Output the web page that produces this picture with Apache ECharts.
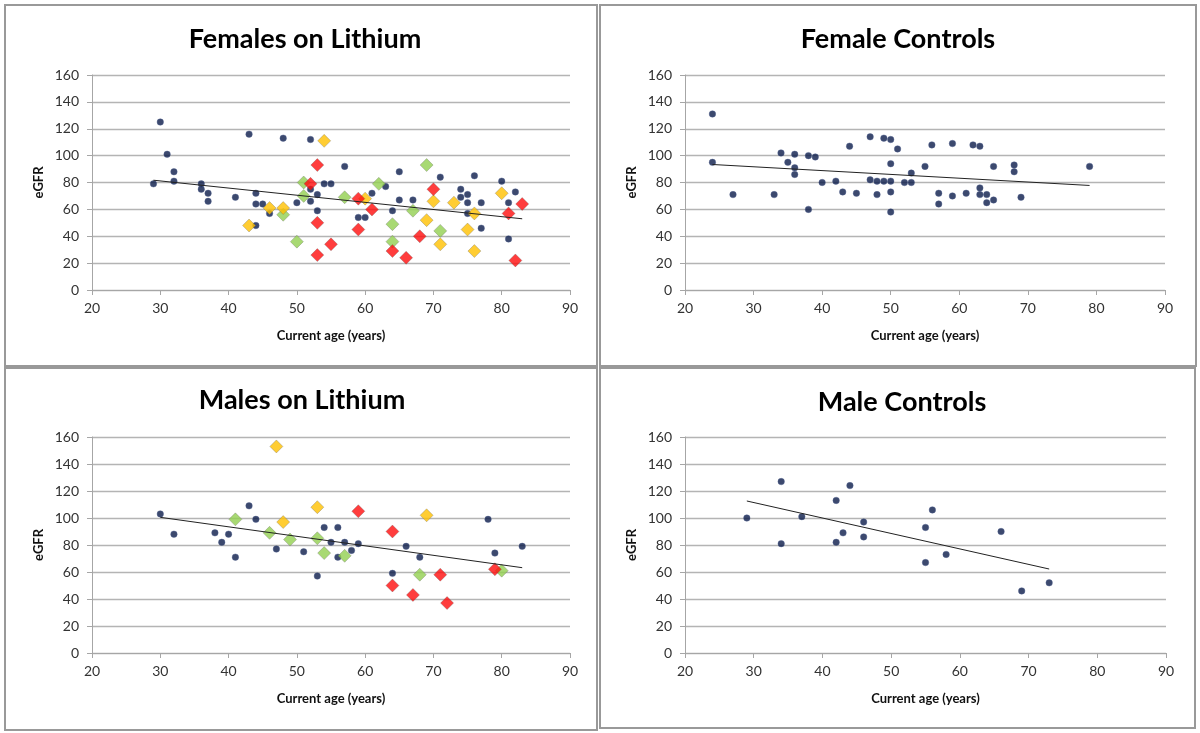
<!DOCTYPE html>
<html>
<head>
<meta charset="utf-8">
<script src="https://cdn.jsdelivr.net/npm/echarts@6.0.0/dist/echarts.min.js"></script>
<style>
  html, body { margin: 0; padding: 0; background: #fff; }
  #chart { width: 1200px; height: 733px; }
</style>
</head>
<body>
<div id="chart"></div>
<script>
// [age, eGFR]
var femLithiumBlue = [[29,79],[30,125],[31,101],[32,88],[32,81],[36,79],[36,75],[37,72],[37,66],[41,69],[43,116],[44,72],[44,64],[45,64],[44,48],[46,57],[48,113],[50,65],[52,112],[52,75],[52,66],[53,71],[53,59],[54,79],[55,79],[57,92],[59,54],[60,54],[61,72],[63,77],[64,59],[65,88],[65,67],[67,67],[71,84],[74,75],[74,69],[75,71],[75,65],[75,57],[76,85],[77,65],[77,46],[80,81],[81,65],[81,38],[82,73]];
var femLithiumGreen = [[48,56],[50,36],[51,80],[51,70],[57,69],[62,79],[64,49],[64,36],[67,59],[69,93],[71,44]];
var femLithiumYellow = [[43,48],[46,61],[48,61],[54,111],[60,68],[69,52],[70,66],[71,34],[73,65],[75,45],[76,57],[76,29],[80,72]];
var femLithiumRed = [[52,79],[53,93],[53,50],[53,26],[55,34],[59,68],[59,45],[61,60],[64,29],[66,24],[68,40],[70,75],[81,57],[82,22],[83,64]];
var femLithiumTrend = [[29,81.7],[83,53]];

var femControls = [[24,131],[24,95],[27,71],[33,71],[34,102],[35,95],[36,101],[36,91],[36,86],[38,100],[38,60],[39,99],[40,80],[42,81],[43,73],[44,107],[45,72],[47,114],[47,82],[48,81],[48,71],[49,113],[49,81],[50,112],[50,94],[50,81],[50,73],[50,58],[51,105],[52,80],[53,87],[53,80],[55,92],[56,108],[57,72],[57,64],[59,109],[59,70],[61,72],[62,108],[63,107],[63,76],[63,71],[64,71],[64,65],[65,92],[65,67],[68,93],[68,88],[69,69],[79,92]];
var femControlsTrend = [[24,93.4],[79,77.8]];

var maleLithiumBlue = [[30,103],[32,88],[38,89],[39,82],[40,88],[41,71],[43,109],[44,99],[47,77],[51,75],[53,57],[54,93],[55,82],[56,93],[56,71],[57,82],[58,76],[59,81],[64,59],[66,79],[68,71],[78,99],[79,74],[83,79]];
var maleLithiumGreen = [[41,99],[46,89],[49,84],[53,85],[54,74],[57,72],[68,58],[80,61]];
var maleLithiumYellow = [[47,153],[48,97],[53,108],[69,102]];
var maleLithiumRed = [[59,105],[64,90],[64,50],[67,43],[71,58],[72,37],[79,62]];
var maleLithiumTrend = [[30,100.5],[83,63.2]];

var maleControls = [[29,100],[34,127],[34,81],[37,101],[42,113],[42,82],[43,89],[44,124],[46,97],[46,86],[55,93],[55,67],[56,106],[58,73],[66,90],[69,46],[73,52]];
var maleControlsTrend = [[29,112.6],[73,62.2]];

var panelTitles = ['Females on Lithium', 'Female Controls', 'Males on Lithium', 'Male Controls'];
var xName = 'Current age (years)';
var yName = 'eGFR';

var FONT = 'Lato, "Open Sans", sans-serif';
var dotColor = '#0b1c4a';
var greenColor = '#92d050';
var yellowColor = '#ffc000';
var redColor = '#ff0c0c';

var grids = [
  { left: 92, top: 75, width: 478, height: 215 },
  { left: 685, top: 75, width: 480, height: 215 },
  { left: 92, top: 437, width: 478, height: 216 },
  { left: 685, top: 437, width: 481, height: 216 }
];

function makeX(i) {
  return {
    gridIndex: i, type: 'value', min: 20, max: 90, interval: 10,
    name: xName, nameLocation: 'middle', nameGap: 39,
    nameTextStyle: { fontFamily: FONT, fontWeight: 'bold', fontSize: 13, color: '#111' },
    axisLine: { onZero: false, lineStyle: { color: '#a6a6a6', width: 1 } },
    axisTick: { show: true, inside: false, length: 5, lineStyle: { color: '#a6a6a6' } },
    axisLabel: { fontFamily: FONT, fontSize: 14, color: '#333', margin: 11 },
    splitLine: { show: false }
  };
}

function makeY(i) {
  return {
    gridIndex: i, type: 'value', min: 0, max: 160, interval: 20,
    name: yName, nameLocation: 'middle', nameGap: 47,
    nameTextStyle: { fontFamily: FONT, fontWeight: 'bold', fontSize: 13, color: '#111' },
    axisLine: { show: true, lineStyle: { color: '#a6a6a6', width: 1 } },
    axisTick: { show: true, inside: false, length: 5, lineStyle: { color: '#a6a6a6' } },
    axisLabel: { fontFamily: FONT, fontSize: 14, color: '#333', margin: 13 },
    splitLine: { show: true, lineStyle: { color: '#b4b4b4', width: 1.3 } }
  };
}

function dots(name, i, data) {
  return {
    name: name, type: 'scatter', xAxisIndex: i, yAxisIndex: i,
    symbol: 'circle', symbolSize: 6.5, data: data,
    itemStyle: { color: dotColor, borderColor: '#4a5d8c', borderWidth: 0.5 },
    z: 2
  };
}

function diamonds(name, i, data, color) {
  return {
    name: name, type: 'scatter', xAxisIndex: i, yAxisIndex: i,
    symbol: 'diamond', symbolSize: [13, 13], data: data,
    itemStyle: { color: color, borderColor: 'rgba(90,90,90,0.45)', borderWidth: 0.8 },
    z: 3
  };
}

function trend(name, i, data) {
  return {
    name: name, type: 'line', xAxisIndex: i, yAxisIndex: i,
    data: data, symbol: 'none', silent: true,
    lineStyle: { color: '#222', width: 1 },
    z: 4
  };
}

var titleSpots = [[300, 21], [893, 21], [297, 382], [897, 384]];

var chartDom = document.getElementById('chart');
var myChart = echarts.init(chartDom);

var option = {
  backgroundColor: '#fff',
  animation: false,
  title: panelTitles.map(function (t, i) {
    return {
      text: t, left: titleSpots[i][0], top: titleSpots[i][1], textAlign: 'center',
      textStyle: { fontFamily: FONT, fontWeight: 'bold', fontSize: 27, color: '#000' }
    };
  }),
  grid: grids,
  xAxis: [makeX(0), makeX(1), makeX(2), makeX(3)],
  yAxis: [makeY(0), makeY(1), makeY(2), makeY(3)],
  graphic: [
    { type: 'rect', shape: { x: 5, y: 5, width: 592, height: 361 }, style: { fill: null, stroke: '#999', lineWidth: 2 }, silent: true },
    { type: 'rect', shape: { x: 600, y: 5, width: 596, height: 361 }, style: { fill: null, stroke: '#999', lineWidth: 2 }, silent: true },
    { type: 'rect', shape: { x: 5, y: 368, width: 592, height: 362 }, style: { fill: null, stroke: '#999', lineWidth: 2 }, silent: true },
    { type: 'rect', shape: { x: 600, y: 368, width: 595, height: 360 }, style: { fill: null, stroke: '#999', lineWidth: 2 }, silent: true }
  ],
  series: [
    dots('Females on lithium', 0, femLithiumBlue),
    diamonds('Females on lithium (green)', 0, femLithiumGreen, greenColor),
    diamonds('Females on lithium (yellow)', 0, femLithiumYellow, yellowColor),
    diamonds('Females on lithium (red)', 0, femLithiumRed, redColor),
    trend('Females on lithium trend', 0, femLithiumTrend),

    dots('Female controls', 1, femControls),
    trend('Female controls trend', 1, femControlsTrend),

    dots('Males on lithium', 2, maleLithiumBlue),
    diamonds('Males on lithium (green)', 2, maleLithiumGreen, greenColor),
    diamonds('Males on lithium (yellow)', 2, maleLithiumYellow, yellowColor),
    diamonds('Males on lithium (red)', 2, maleLithiumRed, redColor),
    trend('Males on lithium trend', 2, maleLithiumTrend),

    dots('Male controls', 3, maleControls),
    trend('Male controls trend', 3, maleControlsTrend)
  ]
};

option && myChart.setOption(option);
</script>
</body>
</html>
